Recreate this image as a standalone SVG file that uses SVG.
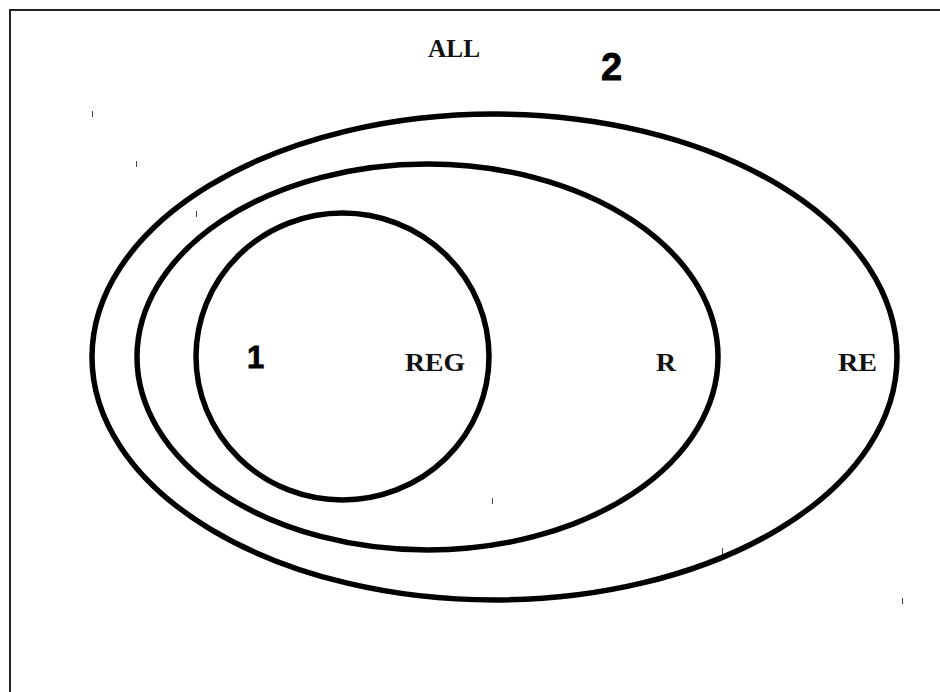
<svg xmlns="http://www.w3.org/2000/svg" width="940" height="692" viewBox="0 0 940 692">
<style>
.set{fill:none;stroke:#000;stroke-width:5.5}
.lbl{font-family:"Liberation Serif",serif;font-weight:bold;font-size:25px;fill:#111}
.num{font-family:"Liberation Sans",Arial,sans-serif;font-weight:bold;fill:#000;stroke:#000;stroke-width:0.8}
.tick{stroke:#444;stroke-width:1}
</style>
<rect width="940" height="692" fill="#fff"/>
<rect x="10" y="10" width="960" height="720" fill="none" stroke="#222" stroke-width="2"/>
<g id="RE">
<ellipse class="set" cx="494.5" cy="357" rx="402.5" ry="243"/>
<text class="lbl" x="838" y="371" textLength="39" lengthAdjust="spacingAndGlyphs">RE</text>
</g>
<g id="R">
<ellipse class="set" cx="427.5" cy="357" rx="290.5" ry="193"/>
<text class="lbl" x="656" y="371" textLength="20" lengthAdjust="spacingAndGlyphs">R</text>
</g>
<g id="REG">
<ellipse class="set" cx="342.5" cy="356.5" rx="146.5" ry="143.5"/>
<text class="lbl" x="405" y="371" textLength="60" lengthAdjust="spacingAndGlyphs">REG</text>
</g>
<g id="ALL">
<text class="lbl" x="428" y="57" textLength="52" lengthAdjust="spacingAndGlyphs">ALL</text>
</g>
<g id="label1"><text class="num" x="247" y="368" font-size="31">1</text></g>
<g id="label2"><text class="num" x="601" y="80" font-size="38">2</text></g>
<g id="connectors">
<line class="tick" x1="92.5" y1="111" x2="92.5" y2="117"/>
<line class="tick" x1="136.5" y1="161" x2="136.5" y2="167"/>
<line class="tick" x1="196.5" y1="211" x2="196.5" y2="217"/>
<line class="tick" x1="492.5" y1="498" x2="492.5" y2="504"/>
<line class="tick" x1="722.5" y1="548" x2="722.5" y2="554"/>
<line class="tick" x1="902.5" y1="598" x2="902.5" y2="604"/>
</g>
</svg>
